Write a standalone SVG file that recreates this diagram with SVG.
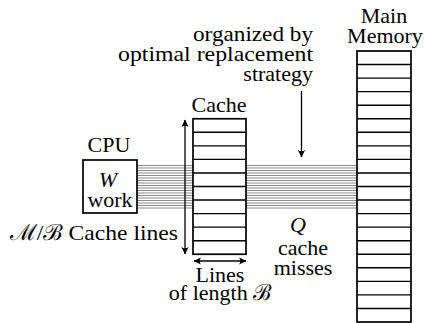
<svg xmlns="http://www.w3.org/2000/svg" width="424" height="323" viewBox="0 0 424 323" font-family="'Liberation Serif', 'DejaVu Serif', serif">
<defs>
<style>
text{font-family:'Liberation Serif','DejaVu Serif',serif;font-size:22px;fill:#000}
.box{fill:#fff;stroke:#000;stroke-width:1.7}
.row{stroke:#000;stroke-width:1.4}
.bus{stroke:#8c8c8c;stroke-width:1.2}
.arr{stroke:#000;stroke-width:1.3;fill:none}
.it{font-style:italic}
.mid{text-anchor:middle}
.end{text-anchor:end}
</style>
<marker id="ah" viewBox="-8 -4 9 8" refX="0" refY="0" markerWidth="9" markerHeight="8" markerUnits="userSpaceOnUse" orient="auto-start-reverse">
<path d="M0.5,0 L-7,-3.6 Q-4.5,0 -7,3.6 Z" fill="#000"/>
</marker>
</defs>
<rect width="424" height="323" fill="#fff"/>

<g id="connectors">
<g id="bus-cpu-cache">
<path class="bus" d="M137,165.5H193M137,168H193M137,170.5H193M137,173H193M137,175.5H193M137,178H193M137,180.5H193M137,183H193M137,185.5H193M137,188H193M137,190.5H193M137,193H193M137,195.5H193M137,198H193M137,200.5H193M137,203H193M137,205.5H193M137,208H193"/>
</g>
<g id="bus-cache-memory">
<path class="bus" d="M246,165.5H357M246,168H357M246,170.5H357M246,173H357M246,175.5H357M246,178H357M246,180.5H357M246,183H357M246,185.5H357M246,188H357M246,190.5H357M246,193H357M246,195.5H357M246,198H357M246,200.5H357M246,203H357M246,205.5H357M246,208H357"/>
</g>
</g>

<g id="cpu">
<rect class="box" x="83" y="160" width="54" height="53"/>
<text class="mid" x="109" y="152">CPU</text>
<text class="mid it" x="108" y="187">W</text>
<text class="mid" x="110" y="207">work</text>
</g>

<g id="cache">
<rect class="box" x="193" y="118.75" width="53" height="135.5"/>
<path class="row" d="M193,132.3H246M193,145.85H246M193,159.4H246M193,172.95H246M193,186.5H246M193,200.05H246M193,213.6H246M193,227.15H246M193,240.7H246"/>
<text class="mid" x="219" y="112">Cache</text>
</g>

<g id="memory">
<rect class="box" x="357" y="51" width="54" height="271"/>
<path class="row" d="M357,64.55H411M357,78.1H411M357,91.65H411M357,105.2H411M357,118.75H411M357,132.3H411M357,145.85H411M357,159.4H411M357,172.95H411M357,186.5H411M357,200.05H411M357,213.6H411M357,227.15H411M357,240.7H411M357,254.25H411M357,267.8H411M357,281.35H411M357,294.9H411M357,308.45H411"/>
<text class="mid" x="384" y="23">Main</text>
<text class="mid" x="385" y="43">Memory</text>
</g>

<g id="arrows">
<line class="arr" x1="185" y1="120" x2="185" y2="254" marker-start="url(#ah)" marker-end="url(#ah)"/>
<line class="arr" x1="194" y1="261" x2="246" y2="261" marker-start="url(#ah)" marker-end="url(#ah)"/>
<line class="arr" x1="301.5" y1="91" x2="301.5" y2="157" marker-end="url(#ah)"/>
</g>

<g id="labels">
<text class="end" x="313" y="41" textLength="120" lengthAdjust="spacingAndGlyphs">organized by</text>
<text class="end" x="313" y="61" textLength="195" lengthAdjust="spacingAndGlyphs">optimal replacement</text>
<text class="end" x="313" y="81">strategy</text>
<text class="end" x="178" y="240" textLength="168" lengthAdjust="spacingAndGlyphs">ℳ/ℬ Cache lines</text>
<text class="mid it" x="298" y="232">Q</text>
<text class="mid" x="303" y="255">cache</text>
<text class="mid" x="303" y="275">misses</text>
<text class="mid" x="220" y="282">Lines</text>
<text class="mid" x="220" y="300">of length ℬ</text>
</g>
</svg>
